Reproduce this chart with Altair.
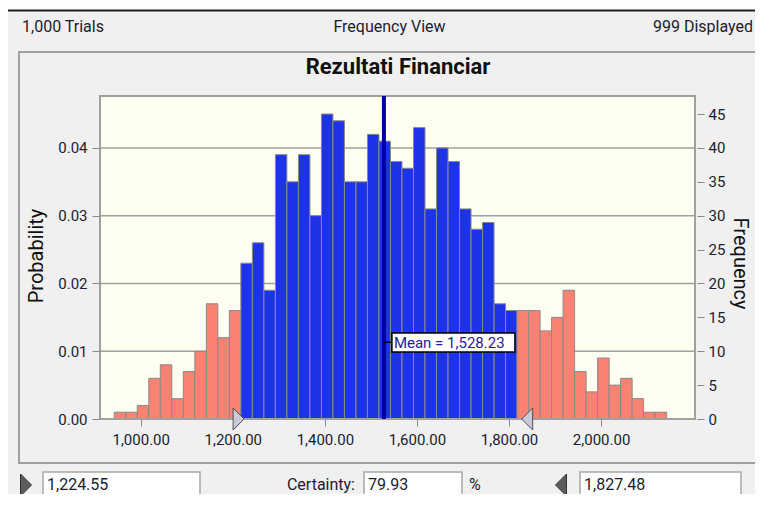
import altair as alt
import pandas as pd

# ---------------- data ----------------
counts = [1, 1, 2, 6, 8, 3, 7, 10, 17, 12, 16,
          23, 26, 19, 39, 35, 39, 30, 45, 44, 35, 35, 42, 41, 38, 37,
          43, 31, 40, 38, 31, 28, 29, 17, 16,
          16, 16, 13, 15, 19, 7, 4, 9, 5, 6, 3, 1, 1]
bin_first = 942.5
bin_width = 25.0
x_ticks = [1000, 1200, 1400, 1600, 1800, 2000]
prob_ticks = [0.00, 0.01, 0.02, 0.03, 0.04]
freq_ticks = [0, 5, 10, 15, 20, 25, 30, 35, 40, 45]
grid_probs = [0.01, 0.02, 0.03, 0.04]
mean_value = 1528.23
cert_low = 1224.55
cert_high = 1827.48
certainty = 79.93
trials = 1000
displayed = 999
header = "Figura 3-5. \u2013 Rezultati Financiar me siguri 80%"
chart_title = "Rezultati Financiar"

# ---------------- tables ----------------
lo = [bin_first + bin_width * i for i in range(len(counts))]
bars = pd.DataFrame({"lo": lo, "hi": [v + bin_width for v in lo], "count": counts})
bars["base"] = 0
mid = bars["lo"] + bin_width / 2
bars["zone"] = ["in" if cert_low <= m <= cert_high else "out" for m in mid]
mean_df = pd.DataFrame({"mean": [mean_value]})
grid_df = pd.DataFrame({"prob": grid_probs})
lo_df = pd.DataFrame({"v": [cert_low]})
hi_df = pd.DataFrame({"v": [cert_high]})
one = pd.DataFrame({"k": [0]})

# ---------------- style ----------------
FONT = "Roboto"
TXT = "#1c1c30"
WIN = "#f0f0f0"
BORDER = "#a0a0a0"
BLUE = "#1c33e8"
SALMON = "#f98272"
W, H = 595, 323

xscale = alt.Scale(domain=[911.5, 2204], nice=False, zero=False)
freq_scale = alt.Scale(domain=[0, 47.66], nice=False, zero=False)
prob_scale = alt.Scale(domain=[0, 0.04766], nice=False, zero=False)

xaxis = alt.Axis(values=x_ticks, format=",.2f", title=None, grid=False, domain=False,
                 tickSize=7, tickColor="#8a8a8a", labelPadding=6, labelFont=FONT,
                 labelFontSize=15, labelColor=TXT, zindex=1, orient="bottom")
left_axis = alt.Axis(values=prob_ticks, format=".2f", title=None, grid=False, domain=False,
                     tickSize=8, tickColor="#8a8a8a", labelPadding=5, labelFont=FONT,
                     labelFontSize=15, labelColor=TXT, zindex=1, orient="left")
right_axis = alt.Axis(values=freq_ticks, format="d", title=None, grid=False, domain=False,
                      tickSize=7, offset=2, tickColor="#8a8a8a", labelPadding=4, labelFont=FONT,
                      labelFontSize=15, labelColor=TXT, zindex=1, orient="right")

X = lambda f: alt.X(f, type="quantitative", scale=xscale, axis=xaxis)


def rect(x1, x2, y1, y2, fill, stroke=None, sw=1.0, fo=1.0):
    kw = dict(fill=fill, fillOpacity=fo)
    if stroke:
        kw.update(stroke=stroke, strokeWidth=sw)
    return alt.Chart(one).mark_rect(**kw).encode(
        x=alt.value(x1), x2=alt.value(x2), y=alt.value(y1), y2=alt.value(y2))


def txt(text, x, y, size=16, align="left", weight="normal", angle=0, color=TXT,
        font=FONT, style="normal", baseline="middle"):
    return alt.Chart(one).mark_text(
        fontSize=size, align=align, baseline=baseline, fontWeight=weight, angle=angle,
        color=color, font=font, fontStyle=style).encode(
        x=alt.value(x), y=alt.value(y), text=alt.value(text))


def tri(x, y, path, size, fill, stroke):
    return alt.Chart(one).mark_point(shape=path, size=size, filled=True, fill=fill,
                                     stroke=stroke, strokeWidth=1, opacity=1).encode(
        x=alt.value(x), y=alt.value(y))


RIGHT_TIP = "M -1 -1 L 0 0 L -1 1 Z"
LEFT_TIP = "M 1 -1 L 0 0 L 1 1 Z"

layers = []
# window and panel backgrounds
layers.append(rect(-93, 700, -85, 460, WIN))
layers.append(rect(-93, 700, -86.5, -84.5, "#202020"))
layers.append(txt(header, 290, -96, size=32, align="center", weight="bold",
                  font="Liberation Serif", style="italic", color="#000", baseline="alphabetic"))
layers.append(txt(f"{trials:,} Trials", -78, -69))
layers.append(txt("Frequency View", 289.5, -69, align="center"))
layers.append(txt(f"{displayed:,} Displayed", 653, -69, align="right"))
layers.append(rect(-81, 661, -44, 367, WIN, BORDER, 2))
layers.append(txt(chart_title, 298, -29, size=22, align="center", weight="bold", color="#111"))
layers.append(txt("Probability", -63.5, 160, size=20, align="center", angle=270, color="#111"))
layers.append(txt("Frequency", 640, 167.5, size=20, align="center", angle=90, color="#111"))

# plot area
layers.append(rect(0, W, 0, H, "#fffff2"))
layers.append(alt.Chart(grid_df).mark_rule(color=BORDER, strokeWidth=1.5).encode(
    y=alt.Y("prob:Q", scale=prob_scale, axis=left_axis)))
layers.append(alt.Chart(bars).mark_rect(stroke="#8a8a8a", strokeWidth=1).encode(
    x=X("lo"), x2="hi",
    y=alt.Y("count:Q", scale=freq_scale, axis=right_axis), y2="base",
    color=alt.Color("zone:N", scale=alt.Scale(domain=["out", "in"], range=[SALMON, BLUE]),
                    legend=None)))
layers.append(rect(0, W, 0, H, "#ffffff", BORDER, 2, fo=0))

# mean line and label
layers.append(alt.Chart(mean_df).mark_rule(color="#00009c", strokeWidth=4).encode(x=X("mean")))
layers.append(alt.Chart(mean_df).mark_rect(fill="#000000", x2Offset=8).encode(
    x=X("mean"), x2="mean", y=alt.value(245.5), y2=alt.value(247)))
layers.append(alt.Chart(mean_df).mark_rect(fill="#ffffff", stroke="#000000", strokeWidth=1.5,
                                           xOffset=8, x2Offset=131).encode(
    x=X("mean"), x2="mean", y=alt.value(237), y2=alt.value(256)))
layers.append(alt.Chart(mean_df).transform_calculate(
    label="'Mean = ' + format(datum.mean, ',.2f')").mark_text(
    dx=10, align="left", baseline="middle", fontSize=15, font=FONT, color="#2a1a9a").encode(
    x=X("mean"), y=alt.value(246.5), text="label:N"))

# certainty grabbers on the axis
layers.append(alt.Chart(lo_df).mark_point(shape=RIGHT_TIP, size=484, filled=True, fill="#c9c9d9",
                                          stroke="#505050", strokeWidth=1, opacity=1).encode(
    x=X("v"), y=alt.value(H)))
layers.append(alt.Chart(hi_df).mark_point(shape=LEFT_TIP, size=484, filled=True, fill="#c9c9d9",
                                          stroke="#505050", strokeWidth=1, opacity=1).encode(
    x=X("v"), y=alt.value(H)))

# bottom controls
layers.append(tri(-74, 389, "M -0.5 -1 L 0.5 0 L -0.5 1 Z", 484, "#5c5c5c", "#303030"))
layers.append(rect(-57, 100, 376, 402, "#ffffff", "#a8a8a8", 1.5))
layers.append(txt(f"{cert_low:,.2f}", -53, 389))
layers.append(txt("Certainty:", 255, 389, align="right"))
layers.append(rect(264, 362, 376, 403, "#ffffff", "#a8a8a8", 1.5))
layers.append(txt(f"{certainty:.2f}", 268, 389))
layers.append(txt("%", 369, 389))
layers.append(tri(461, 389, "M 0.5 -1 L -0.5 0 L 0.5 1 Z", 484, "#5c5c5c", "#303030"))
layers.append(rect(480, 641, 376, 402, "#ffffff", "#a8a8a8", 1.5))
layers.append(txt(f"{cert_high:,.2f}", 484, 389))

chart = alt.layer(*layers).resolve_scale(y="independent").properties(
    width=W, height=H,
    padding={"left": 92, "top": 88, "right": 60, "bottom": 75},
    autosize=alt.AutoSizeParams(type="none"),
    background="white",
).configure_view(stroke=None)

chart.save("out.html", embed_options={"renderer": "svg", "actions": False})
